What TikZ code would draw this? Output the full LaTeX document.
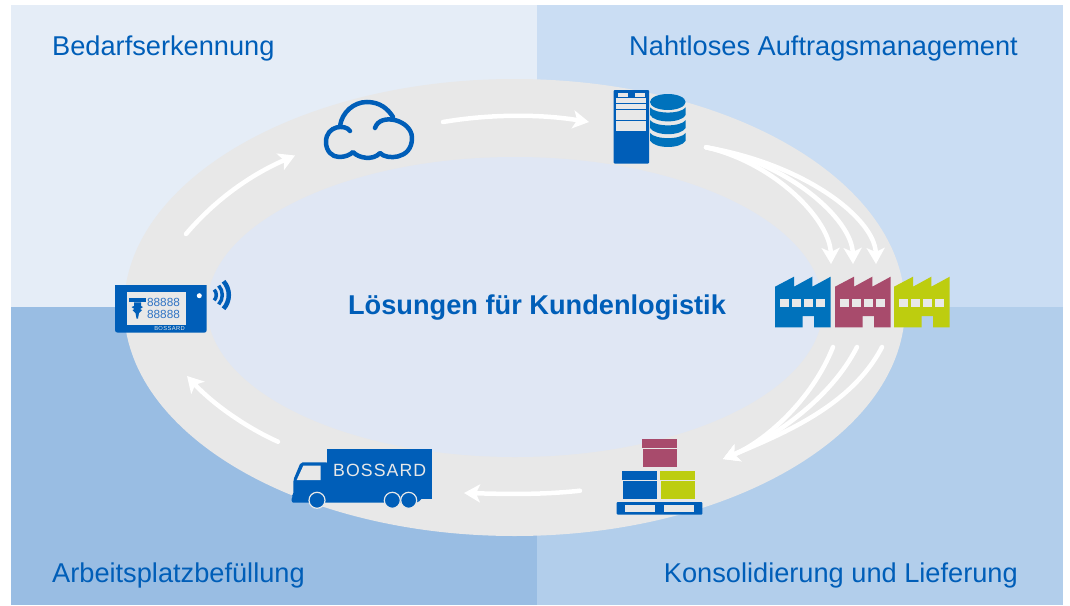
\documentclass[tikz,border=0pt]{standalone}
\usepackage{fontspec}
\setmainfont{Liberation Sans}
\usetikzlibrary{arrows.meta}
\definecolor{quadTL}{HTML}{E5EDF7}
\definecolor{quadTR}{HTML}{CADDF3}
\definecolor{quadBL}{HTML}{99BDE3}
\definecolor{quadBR}{HTML}{B2CEEB}
\definecolor{ringGray}{HTML}{E8E8E8}
\definecolor{innerBlue}{HTML}{E0E7F4}
\definecolor{bossBlue}{HTML}{005EB8}
\definecolor{midBlue}{HTML}{0072BC}
\definecolor{digitBlue}{HTML}{2F73C4}
\definecolor{plum}{HTML}{A84B6C}
\definecolor{lime}{HTML}{BDCD0F}
\begin{document}
\begin{tikzpicture}[x=1pt, y=-1pt]
    \tikzstyle{caption} = [anchor=base west, inner sep=0pt, text=bossBlue, font=\fontsize{27.2}{30}\selectfont]
    \tikzstyle{flowArrow} = [draw=white, line width=4.5, line cap=round, -{Stealth[length=16pt,width=18pt,inset=4pt]}]
    \useasboundingbox (0,0) rectangle (1070,605);
    % background
    \foreach \xa/\ya/\xb/\yb/\col in {11/5/537/307/quadTL, 537/5/1063/307/quadTR,
                                      11/307/537/605/quadBL, 537/307/1063/605/quadBR}
        \fill[\col] (\xa,\ya) rectangle (\xb,\yb);
    \fill[ringGray] (514.5,307.5) ellipse [x radius=390.5, y radius=228.5];
    \fill[innerBlue] (515,307) ellipse [x radius=308, y radius=150];
    % captions
    \node[caption] (need) at (52,55.5) {Bedarfserkennung};
    \node[caption, anchor=base east] (order) at (1018,55.5) {Nahtloses Auftragsmanagement};
    \node[caption] (refill) at (52,582.5) {Arbeitsplatzbefüllung};
    \node[caption, anchor=base east] (delivery) at (1018,582.5) {Konsolidierung und Lieferung};
    \node[caption, anchor=base, font=\fontsize{27.2}{30}\selectfont\bfseries] (title) at (537,314) {Lösungen für Kundenlogistik};
    % cloud
    \draw[bossBlue, line width=4.5, line cap=round, line join=round]
        (350,131) .. controls (346,124) and (326,125) .. (326,142)
        .. controls (326,151) and (332,157) .. (339,157)
        .. controls (345,157) and (350,155) .. (353,152)
        .. controls (358,158) and (373,161) .. (380,153)
        .. controls (386,160) and (412,160) .. (412,138)
        .. controls (412,120) and (380,112) .. (375,128);
    \draw[bossBlue, line width=4.5, line cap=round]
        (340,126) .. controls (342,112) and (354,102) .. (367,102)
        .. controls (380,102) and (388,109) .. (393,117);
    % server
    \fill[bossBlue, rounded corners=1pt] (613.5,90) rectangle (649,163.5);
    \foreach \xa/\ya/\xb/\yb in {618/93/628/97, 635/93/645/97, 616/98/646/103,
                                 616/104/646/109, 616/110/646/120, 616/121/646/131}
        \fill[ringGray] (\xa,\ya) rectangle (\xb,\yb);
    % database
    \fill[midBlue] (667.8,102) ellipse [x radius=17.8, y radius=8];
    \foreach \dy in {0,12.8,25.6}
        \fill[midBlue] (650,107.3+\dy) .. controls (655,114.3+\dy) and (681,114.3+\dy) .. (685.7,107.3+\dy)
            -- (685.7,115+\dy) .. controls (681,123.5+\dy) and (655,123.5+\dy) .. (650,115+\dy) -- cycle;
    % factories
    \foreach \dx/\col in {0/midBlue, 60/plum, 119/lime} {
        \begin{scope}[xshift=\dx pt]
            \fill[\col] (775,286.7) -- (794,276.7) -- (794,286.7) -- (812.3,276.7) -- (812.3,286.7)
                -- (830.7,276.7) -- (830.7,327.3) -- (814,327.3) -- (814,316) -- (802.7,316)
                -- (802.7,327.3) -- (775,327.3) -- cycle;
            \foreach \xa in {780,792,803.7,815.7}
                \fill[ringGray] (\xa,299.3) rectangle (\xa+9.3,306.7);
        \end{scope}
    }
    % pallet and boxes
    \fill[bossBlue, rounded corners=1pt] (616.7,502) rectangle (702.3,514.7);
    \foreach \xa/\xb in {625/655, 663.7/694}
        \fill[ringGray] (\xa,505.3) rectangle (\xb,511.7);
    \foreach \xa/\ya/\col in {622/471.3/bossBlue, 660/471.3/lime, 642/439.3/plum} {
        \fill[\col] (\xa,\ya) rectangle (\xa+35.4,\ya+9);
        \fill[\col] (\xa+0.7,\ya+10) rectangle (\xa+34.7,\ya+27.4);
    }
    % truck
    \fill[bossBlue] (326.7,449.3) rectangle (432,498.7);
    \fill[bossBlue, rounded corners=2pt] (328,462.3) -- (300.7,462.3) -- (293.3,480) -- (293.3,495)
        -- (291.7,496.7) -- (291.7,502.7) -- (418,502.7) -- (423,497) -- (328,497) -- cycle;
    \fill[ringGray] (303.3,465.7) -- (320.7,465.7) -- (320.7,480) -- (296.7,480) -- cycle;
    \foreach \xa in {317,392.3,408.7}
        \draw[ringGray, fill=bossBlue, line width=1.2] (\xa,500.3) circle [radius=8];
    \node[inner sep=0pt, text=ringGray, font=\fontsize{17.7}{20}\selectfont\addfontfeature{LetterSpace=6}] (truckName) at (379.7,470.7) {BOSSARD};
    % device
    \fill[bossBlue] (115,285) -- (206.7,285) -- (206.7,330) .. controls (206.7,331.7) and (205.7,332.7) .. (204,332.7)
        -- (118,332.7) .. controls (116,332.7) and (115,331.7) .. (115,330) -- cycle;
    \fill[ringGray] (126.7,292.3) rectangle (186,325);
    \fill[bossBlue] (129,298.3) rectangle (145.7,302.3);
    \fill[bossBlue] (134,302.3) -- (141,302.3) -- (141,306) -- (143,307) -- (140,309) -- (142,310) -- (139,313)
        -- (138,318.5) -- (136.5,318.5) -- (135.5,313) -- (132.5,310) -- (134.5,309) -- (131.5,307) -- (134,306) -- cycle;
    \node[inner sep=0pt, text=digitBlue, font=\fontsize{11.8}{14}\selectfont] (digitsTop) at (163.5,302) {88888};
    \node[inner sep=0pt, text=digitBlue, font=\fontsize{11.8}{14}\selectfont] (digitsLow) at (163.5,314.5) {88888};
    \node[inner sep=0pt, text=ringGray, font=\fontsize{5.8}{7}\selectfont\addfontfeature{LetterSpace=6}] (deviceName) at (169.5,328.7) {BOSSARD};
    \fill[white] (199.3,295.7) circle [radius=2.5];
    \foreach \r/\w in {8/3.5, 14/3.5, 20.5/4.5}
        \draw[bossBlue, line width=\w] (208.3,295) ++(-42:\r pt) arc [start angle=-42, end angle=42, radius=\r pt];
    % arrow ends
    \coordinate (deviceOut) at (186,234);
    \coordinate (cloudIn) at (295,155.5);
    \coordinate (cloudOut) at (443,122);
    \coordinate (serverIn) at (589,122);
    \coordinate (serverOut) at (706,147.3);
    \coordinate (plantInA) at (831,264);
    \coordinate (plantInB) at (853,264);
    \coordinate (plantInC) at (876,264);
    \coordinate (plantOutA) at (833,347);
    \coordinate (plantOutB) at (857,347);
    \coordinate (plantOutC) at (882,347);
    \coordinate (palletIn) at (723,459);
    \coordinate (palletOut) at (580,490.7);
    \coordinate (truckIn) at (464,493);
    \coordinate (truckOut) at (278,441.7);
    \coordinate (deviceIn) at (187,376);
    % flow
    \draw[flowArrow] (deviceOut) .. controls (215,200) and (250,175) .. (cloudIn);
    \draw[flowArrow] (cloudOut) .. controls (490,114) and (540,114) .. (serverIn);
    \draw[flowArrow] (serverOut) .. controls (775,163) and (830,220) .. (plantInA);
    \draw[flowArrow] (serverOut) .. controls (790,163) and (852,220) .. (plantInB);
    \draw[flowArrow] (serverOut) .. controls (808,165) and (875,220) .. (plantInC);
    \draw[flowArrow] (plantOutA) .. controls (812,400) and (765,441.5) .. (palletIn);
    \draw[flowArrow] (plantOutB) .. controls (830,400) and (772,438.6) .. (palletIn);
    \draw[flowArrow] (plantOutC) .. controls (852,405) and (785,433) .. (palletIn);
    \draw[flowArrow] (palletOut) .. controls (540,495) and (505,494) .. (truckIn);
    \draw[flowArrow] (truckOut) .. controls (245,427) and (212,403) .. (deviceIn);
\end{tikzpicture}
\end{document}
